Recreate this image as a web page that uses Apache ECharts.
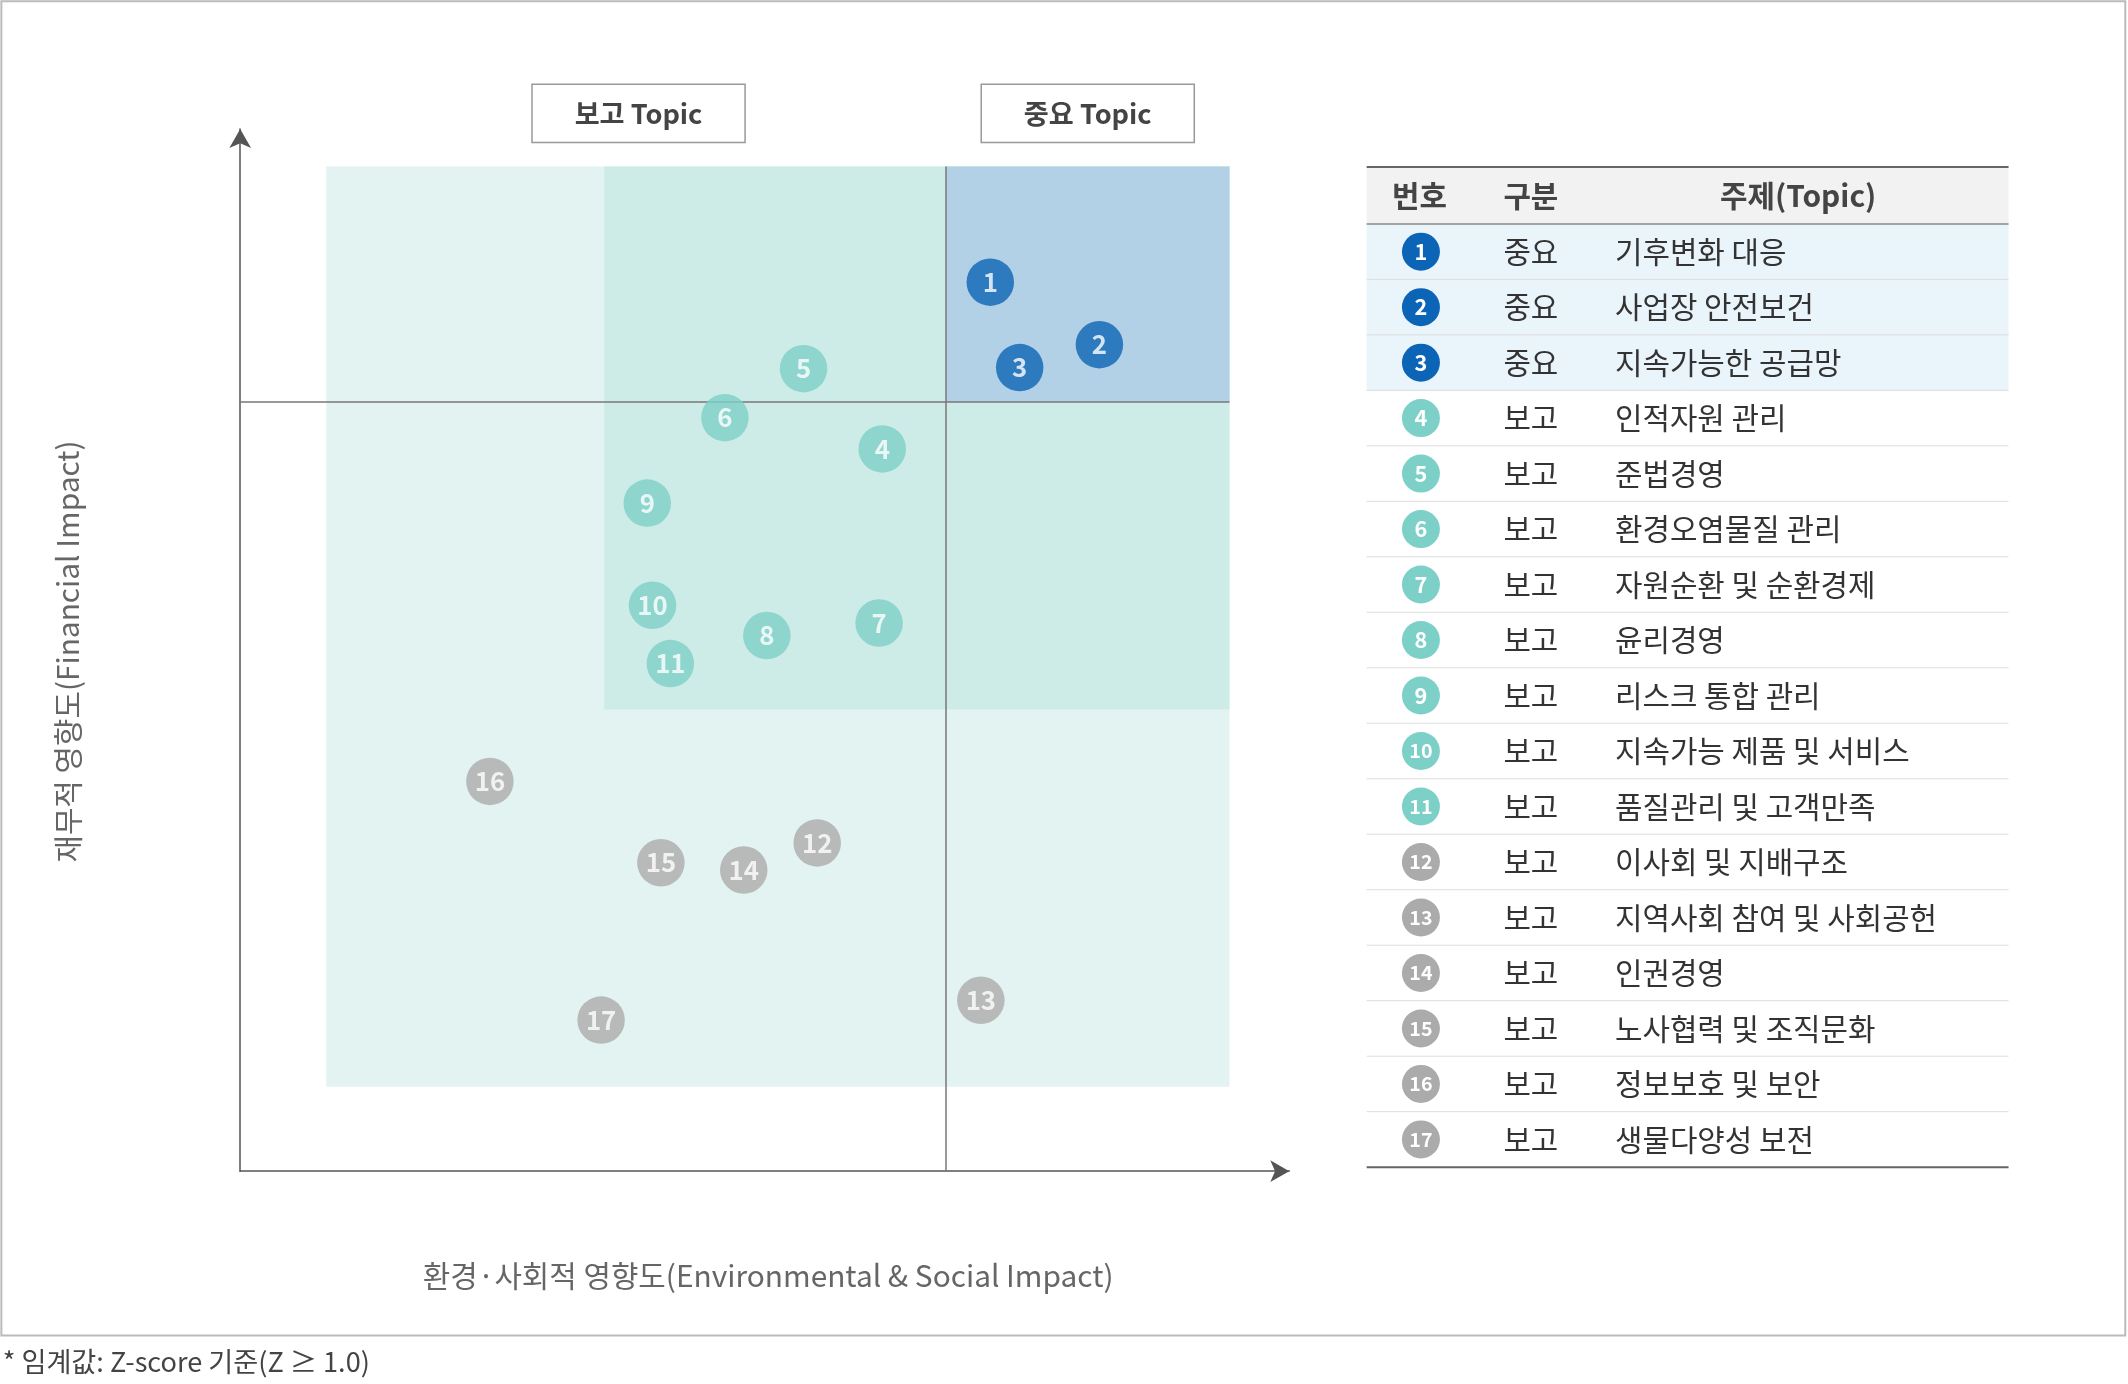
<!DOCTYPE html>
<html>
<head>
<meta charset="utf-8" />
<title>Materiality</title>
<script src="https://cdn.jsdelivr.net/npm/echarts@6/dist/echarts.min.js"></script>
<style>html,body{margin:0;padding:0;background:#fff}#main{width:2128px;height:1384px}</style>
</head>
<body>
<div id="main"></div>
<script type="text/javascript">
    // topic data (x: env/social impact, y: financial impact, 0-100 scale)
    var topicNo = [1,2,3,4,5,6,7,8,9,10,11,12,13,14,15,16,17];
    var topicX = [71.5,81.9,74.3,61.2,53.7,46.2,60.9,50.2,38.8,39.3,41.0,55.0,70.6,48.0,40.1,23.8,34.4];
    var topicY = [85.3,79.3,77.1,69.3,77.0,72.3,52.6,51.4,64.1,54.3,48.7,31.5,16.4,28.9,29.6,37.4,14.5];
    var topicGroup = ['중요','중요','중요','보고','보고','보고','보고','보고','보고','보고','보고','보고','보고','보고','보고','보고','보고'];
    var topicType = ['key','key','key','mid','mid','mid','mid','mid','mid','mid','mid','low','low','low','low','low','low'];
    var topicName = ['기후변화 대응','사업장 안전보건','지속가능한 공급망','인적자원 관리','준법경영','환경오염물질 관리',
        '자원순환 및 순환경제','윤리경영','리스크 통합 관리','지속가능 제품 및 서비스','품질관리 및 고객만족',
        '이사회 및 지배구조','지역사회 참여 및 사회공헌','인권경영','노사협력 및 조직문화','정보보호 및 보안','생물다양성 보전'];
    var xTickLabels = ['LOW','MEDIUM','임계값','HIGH'];
    var xTickPos = [23.4,53.7,67.3,82.9];
    var yTickLabels = ['HIGH','임계값','MEDIUM','LOW'];
    var yTickPos = [85.0,73.8,61.6,38.3];
    var thresholdX = 67.3, thresholdY = 73.8;

    var s = 2128 / 1568;
    function S(v) { return v * s; }
    var colors = {key: '#0b64b5', mid: '#7dd0c7', low: '#ababab'};
    var font = '"Noto Sans CJK KR", "Noto Sans", sans-serif';

    var myChart = echarts.init(document.getElementById('main'));

    var graphics = [];
    graphics.push({type: 'rect', shape: {x: S(1), y: S(1), width: S(1565), height: S(983)},
        style: {fill: 'none', stroke: '#bbb', lineWidth: 2}});
    graphics.push({type: 'text', left: S(2), top: S(993), style: {text: '* 임계값: Z-score 기준(Z ≥ 1.0)', fill: '#444', font: S(20) + 'px ' + font}});
    // topic boxes
    [['보고 Topic', 392], ['중요 Topic', 723]].forEach(function (b) {
        graphics.push({type: 'rect', shape: {x: S(b[1]), y: S(62), width: S(157), height: S(43)},
            style: {fill: '#fff', stroke: '#999', lineWidth: 1.5}});
        graphics.push({type: 'text', x: S(b[1] + 78.5), y: S(84), style: {text: b[0], fill: '#444', font: '600 ' + S(20) + 'px ' + font, align: 'center', verticalAlign: 'middle'}});
    });
    // axis titles
    graphics.push({type: 'text', x: S(566), y: S(940), style: {text: '환경·사회적 영향도(Environmental & Social Impact)', fill: '#666', font: S(22) + 'px ' + font, align: 'center', verticalAlign: 'middle'}});
    graphics.push({type: 'text', x: S(50), y: S(480), rotation: Math.PI / 2, style: {text: '재무적 영향도(Financial Impact)', fill: '#666', font: S(22) + 'px ' + font, align: 'center', verticalAlign: 'middle'}});

    // table
    var tx0 = 1007, tx1 = 1480, th0 = 123, th1 = 165, rowH = (860 - 165) / 17;
    graphics.push({type: 'rect', shape: {x: S(tx0), y: S(th0), width: S(tx1 - tx0), height: S(th1 - th0)}, style: {fill: '#f2f2f2'}});
    [['번호', 1046], ['구분', 1128], ['주제(Topic)', 1325]].forEach(function (h) {
        graphics.push({type: 'text', x: S(h[1]), y: S(144), style: {text: h[0], fill: '#444', font: '600 ' + S(22) + 'px ' + font, align: 'center', verticalAlign: 'middle'}});
    });
    topicNo.forEach(function (n, i) {
        var y0 = th1 + i * rowH, cy = y0 + rowH / 2;
        if (topicType[i] === 'key') {
            graphics.push({type: 'rect', shape: {x: S(tx0), y: S(y0), width: S(tx1 - tx0), height: S(rowH)}, style: {fill: '#eaf4fb'}});
        }
        if (i > 0) graphics.push({type: 'line', shape: {x1: S(tx0), y1: S(y0), x2: S(tx1), y2: S(y0)}, style: {stroke: '#ddd', lineWidth: 1}});
        graphics.push({type: 'circle', shape: {cx: S(1047), cy: S(cy), r: S(14)}, style: {fill: colors[topicType[i]]}});
        graphics.push({type: 'text', x: S(1047), y: S(cy), style: {text: String(n), fill: '#fff', font: '600 ' + S(n > 9 ? 14.5 : 16) + 'px ' + font, align: 'center', verticalAlign: 'middle'}});
        graphics.push({type: 'text', x: S(1128), y: S(cy), style: {text: topicGroup[i], fill: '#333', font: S(22) + 'px ' + font, align: 'center', verticalAlign: 'middle'}});
        graphics.push({type: 'text', x: S(1190), y: S(cy), style: {text: topicName[i], fill: '#333', font: S(22) + 'px ' + font, align: 'left', verticalAlign: 'middle'}});
    });
    graphics.push({type: 'line', shape: {x1: S(tx0), y1: S(th0), x2: S(tx1), y2: S(th0)}, style: {stroke: '#666', lineWidth: 2}});
    graphics.push({type: 'line', shape: {x1: S(tx0), y1: S(th1), x2: S(tx1), y2: S(th1)}, style: {stroke: '#888', lineWidth: 1.5}});
    graphics.push({type: 'line', shape: {x1: S(tx0), y1: S(860), x2: S(tx1), y2: S(860)}, style: {stroke: '#666', lineWidth: 2}});

    var pts = topicNo.map(function (n, i) {
        return {value: [topicX[i], topicY[i]], itemStyle: {color: colors[topicType[i]]}, name: String(n)};
    });
    var xt = xTickLabels.map(function (t, i) { return {value: [xTickPos[i], -3.6], name: t}; });
    var yt = yTickLabels.map(function (t, i) { return {value: [-1.8, yTickPos[i]], name: t}; });
    var labelStyle = {show: true, formatter: '{b}', color: '#555', fontSize: S(19), fontFamily: font};

    var option = {
        animation: false,
        graphic: graphics,
        grid: {left: S(177), top: S(95), width: S(773), height: S(768)},
        xAxis: {type: 'value', min: 0, max: 100, splitLine: {show: false}, axisTick: {show: false}, axisLabel: {show: false},
            axisLine: {lineStyle: {color: '#555', width: 1.5}, symbol: ['none', 'arrow'], symbolSize: [S(12), S(14)]}},
        yAxis: {type: 'value', min: 0, max: 100, splitLine: {show: false}, axisTick: {show: false}, axisLabel: {show: false},
            axisLine: {lineStyle: {color: '#555', width: 1.5}, symbol: ['none', 'arrow'], symbolSize: [S(12), S(14)]}},
        series: [
            {
                type: 'scatter', data: [], silent: true,
                markArea: {silent: true, data: [
                    [{coord: [8.2, 8.1], itemStyle: {color: '#e3f3f1'}}, {coord: [94.3, 96.4]}],
                    [{coord: [34.7, 44.3], itemStyle: {color: '#cdebe7'}}, {coord: [94.3, 96.4]}],
                    [{coord: [thresholdX, thresholdY], itemStyle: {color: '#b2d0e6'}}, {coord: [94.3, 96.4]}]
                ]},
                markLine: {silent: true, symbol: 'none', label: {show: false}, lineStyle: {color: '#777', width: 1.5, type: 'solid'}, data: [
                    [{coord: [thresholdX, 0]}, {coord: [thresholdX, 96.4]}],
                    [{coord: [0, thresholdY]}, {coord: [94.3, thresholdY]}]
                ]}
            },
            {
                type: 'scatter', data: pts, symbolSize: S(35), z: 5,
                label: {show: true, position: 'inside', formatter: '{b}', color: '#fff', fontSize: S(19), fontWeight: 600, fontFamily: font}
            },
            {type: 'scatter', data: xt, symbolSize: 1, clip: false, itemStyle: {opacity: 0}, label: Object.assign({position: 'inside'}, labelStyle)},
            {type: 'scatter', data: yt, symbolSize: 1, clip: false, itemStyle: {opacity: 0}, label: Object.assign({position: 'left', distance: 0}, labelStyle)}
        ]
    };
    myChart.setOption(option);
</script>
</body>
</html>
